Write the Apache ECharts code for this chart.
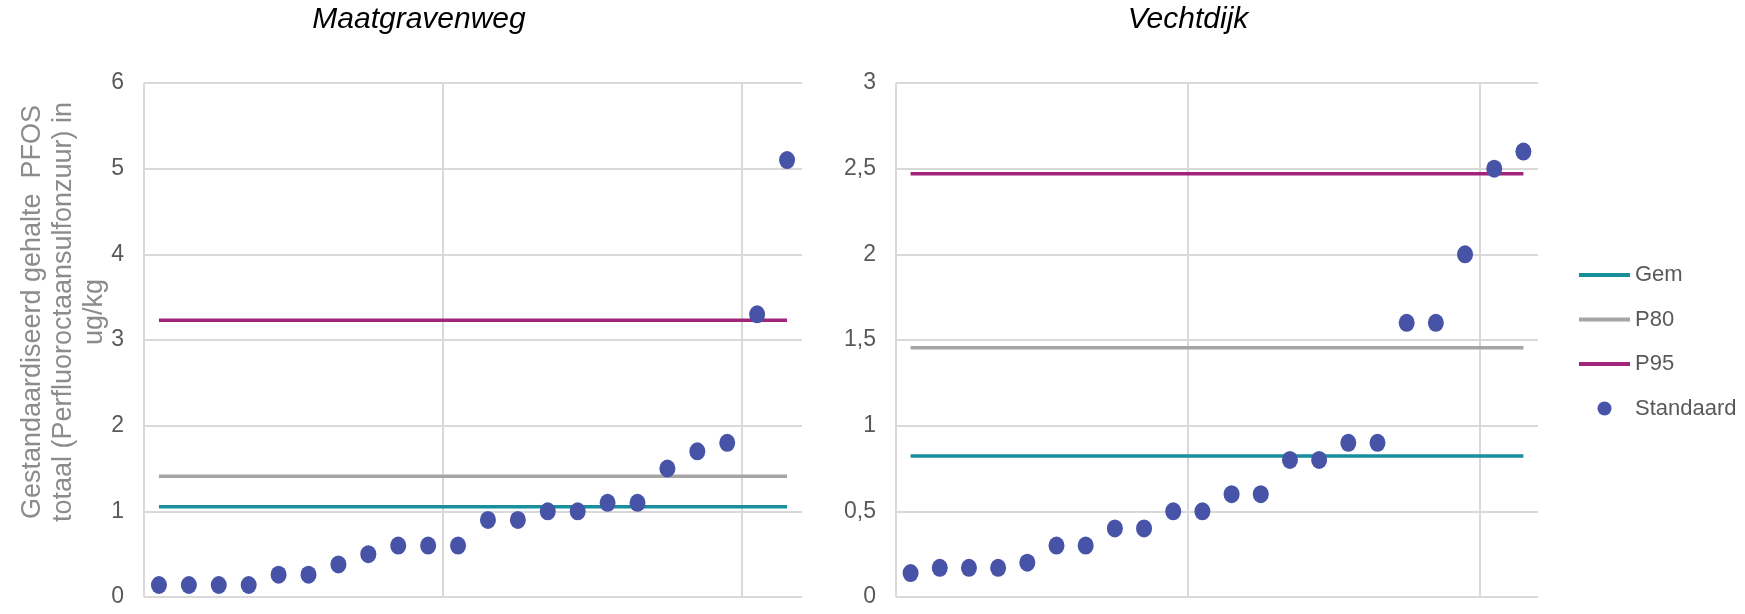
<!DOCTYPE html>
<html>
<head>
<meta charset="utf-8">
<script src="https://cdn.jsdelivr.net/npm/echarts@6/dist/echarts.min.js"></script>
<style>
html,body{margin:0;padding:0;background:#fff;}
#chart{width:1745px;height:614px;}
</style>
</head>
<body>
<div id="chart"></div>
<script>
// ---- data ----
const chartTitles = ['Maatgravenweg', 'Vechtdijk'];
const seriesNames = ['Gem', 'P80', 'P95', 'Standaard'];
const maatgravenwegValues = [0.14,0.14,0.14,0.14,0.26,0.26,0.38,0.5,0.6,0.6,0.6,0.9,0.9,1.0,1.0,1.1,1.1,1.5,1.7,1.8,3.3,5.1];
const vechtdijkValues = [0.14,0.17,0.17,0.17,0.2,0.3,0.3,0.4,0.4,0.5,0.5,0.6,0.6,0.8,0.8,0.9,0.9,1.6,1.6,2.0,2.5,2.6];
const maatgravenwegStats = [1.054, 1.41, 3.23]; // Gem, P80, P95
const vechtdijkStats = [0.823, 1.455, 2.47];    // Gem, P80, P95
const leftYTicks = ['0','1','2','3','4','5','6'];
const rightYTicks = ['0','0,5','1','1,5','2','2,5','3'];
const yAxisTitle = 'Gestandaardiseerd gehalte  PFOS\ntotaal (Perfluoroctaansulfonzuur) in\nug/kg';

// ---- styling ----
const FONT = 'Liberation Sans, Arial, sans-serif';
const lineColors = ['#178f9d', '#a5a5a5', '#a1257a'];
const dotColor = '#4753a6';
const gridColor = '#d9d9d9';

const chart = echarts.init(document.getElementById('chart'), null, {renderer: 'canvas'});

function pts(vals) { return vals.map((v, i) => [i + 0.5, v]); }
function hline(v, n) { return [[0.5, v], [n - 0.5, v]]; }

const grids = [
  {left: 144, top: 83, width: 658, height: 514},
  {left: 896, top: 83, width: 642, height: 514}
];

function xAxis(gi) {
  return {
    type: 'value', gridIndex: gi, min: 0, max: 22, interval: 10,
    axisLine: {show: false}, axisTick: {show: false}, axisLabel: {show: false},
    splitLine: {show: true, showMaxLine: false, lineStyle: {color: gridColor, width: 2}}
  };
}
function yAxis(gi, max, interval, labels) {
  return {
    type: 'value', gridIndex: gi, min: 0, max: max, interval: interval,
    axisLine: {show: false}, axisTick: {show: false},
    axisLabel: {
      margin: 20, color: '#595959', fontFamily: FONT, fontSize: 23,
      formatter: (v) => labels[Math.round(v / interval)]
    },
    splitLine: {show: true, lineStyle: {color: gridColor, width: 2}}
  };
}

const series = [];
[[maatgravenwegValues, maatgravenwegStats], [vechtdijkValues, vechtdijkStats]].forEach((pair, gi) => {
  const vals = pair[0], stats = pair[1];
  stats.forEach((s, k) => {
    series.push({
      name: seriesNames[k], type: 'line', xAxisIndex: gi, yAxisIndex: gi,
      data: hline(s, vals.length), symbol: 'none', silent: true,
      lineStyle: {color: lineColors[k], width: 3.5},
      itemStyle: {color: lineColors[k]}, z: 2
    });
  });
  series.push({
    name: seriesNames[3], type: 'scatter', xAxisIndex: gi, yAxisIndex: gi,
    data: pts(vals), symbol: 'circle', symbolSize: [16, 18],
    itemStyle: {color: dotColor, opacity: 1}, z: 3
  });
});

chart.setOption({
  animation: false,
  backgroundColor: '#ffffff',
  title: [
    {text: chartTitles[0], left: 414, top: 0, textAlign: 'center',
     textStyle: {fontFamily: FONT, fontStyle: 'italic', fontWeight: 'normal', fontSize: 30, color: '#000'}},
    {text: chartTitles[1], left: 1183, top: 0, textAlign: 'center',
     textStyle: {fontFamily: FONT, fontStyle: 'italic', fontWeight: 'normal', fontSize: 30, color: '#000'}}
  ],
  legend: {
    orient: 'vertical', left: 1572, top: 259,
    itemWidth: 51, itemHeight: 14, itemGap: 22.5,
    textStyle: {fontFamily: FONT, fontSize: 22, color: '#595959', lineHeight: 22},
    data: seriesNames.map((n, k) => n === 'Standaard'
      ? {name: n, icon: 'circle'}
      : {name: n, itemStyle: {opacity: 0}, lineStyle: {width: 4, color: lineColors[k]}})
  },
  graphic: [{
    type: 'text', x: 64, y: 312, rotation: Math.PI / 2,
    style: {
      text: yAxisTitle, fontFamily: FONT, fontSize: 27, lineHeight: 31,
      fill: '#8c8c8c', align: 'center', verticalAlign: 'middle'
    }
  }],
  grid: grids,
  xAxis: [xAxis(0), xAxis(1)],
  yAxis: [yAxis(0, 6, 1, leftYTicks), yAxis(1, 3, 0.5, rightYTicks)],
  series: series
});
</script>
</body>
</html>
